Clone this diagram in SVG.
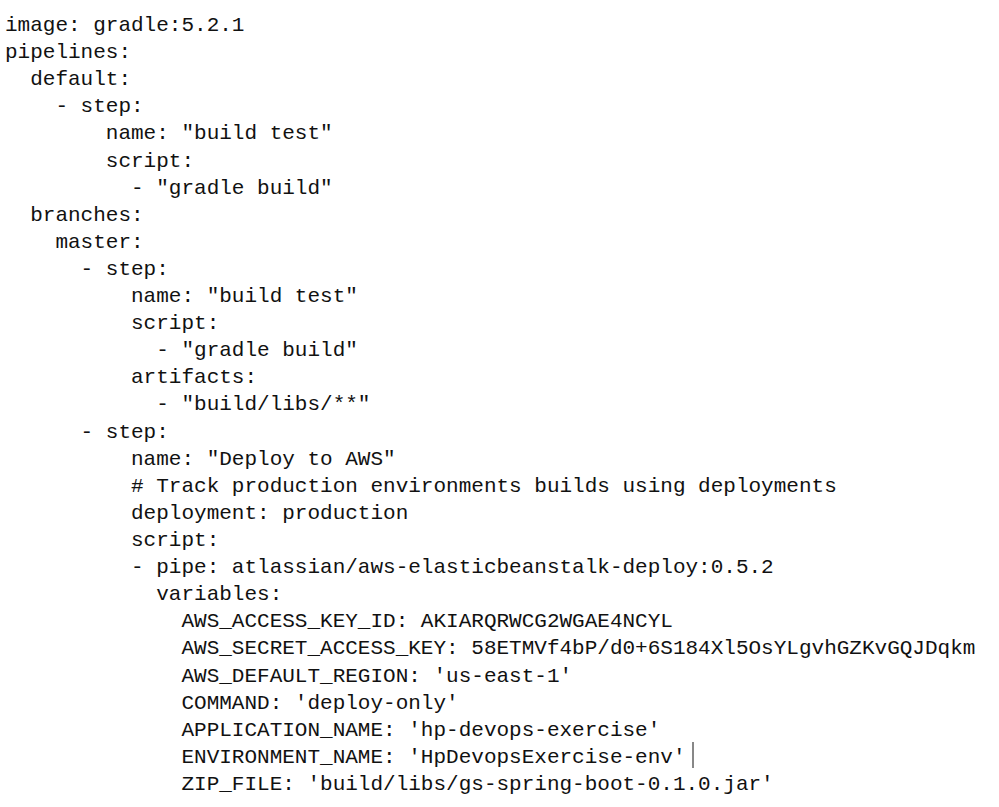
<svg xmlns="http://www.w3.org/2000/svg" width="999" height="807" viewBox="0 0 999 807">
<style>text{font-family:"Liberation Mono","DejaVu Sans Mono",monospace;font-size:21px;fill:#111;white-space:pre}</style>
<rect width="999" height="807" fill="#fff"/>
<g id="code" xml:space="preserve">
<text x="5" y="31">image: gradle:5.2.1</text>
<text x="5" y="58">pipelines:</text>
<text x="5" y="85">  default:</text>
<text x="5" y="112">    - step:</text>
<text x="5" y="139">        name: "build test"</text>
<text x="5" y="167">        script:</text>
<text x="5" y="194">          - "gradle build"</text>
<text x="5" y="221">  branches:</text>
<text x="5" y="248">    master:</text>
<text x="5" y="275">      - step:</text>
<text x="5" y="302">          name: "build test"</text>
<text x="5" y="329">          script:</text>
<text x="5" y="356">            - "gradle build"</text>
<text x="5" y="383">          artifacts:</text>
<text x="5" y="410">            - "build/libs/**"</text>
<text x="5" y="438">      - step:</text>
<text x="5" y="465">          name: "Deploy to AWS"</text>
<text x="5" y="492">          # Track production environments builds using deployments</text>
<text x="5" y="519">          deployment: production</text>
<text x="5" y="546">          script:</text>
<text x="5" y="573">          - pipe: atlassian/aws-elasticbeanstalk-deploy:0.5.2</text>
<text x="5" y="600">            variables:</text>
<text x="5" y="627">              AWS_ACCESS_KEY_ID: AKIARQRWCG2WGAE4NCYL</text>
<text x="5" y="654">              AWS_SECRET_ACCESS_KEY: 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</text>
<text x="5" y="682">              AWS_DEFAULT_REGION: 'us-east-1'</text>
<text x="5" y="709">              COMMAND: 'deploy-only'</text>
<text x="5" y="736">              APPLICATION_NAME: 'hp-devops-exercise'</text>
<text x="5" y="763">              ENVIRONMENT_NAME: 'HpDevopsExercise-env'</text>
<text x="5" y="790">              ZIP_FILE: 'build/libs/gs-spring-boot-0.1.0.jar'</text>
</g>
<line x1="693" y1="742" x2="693" y2="768" stroke="#111" stroke-width="1"/>
</svg>
